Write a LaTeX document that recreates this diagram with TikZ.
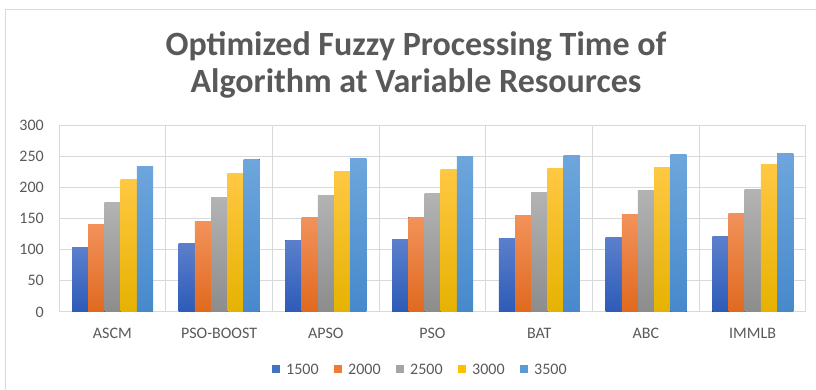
\documentclass[tikz,border=0pt]{standalone}
\usepackage{fontspec}
\setmainfont{Carlito}
\definecolor{txt}{HTML}{595959}
\definecolor{grid}{HTML}{D9D9D9}
\definecolor{sAt}{HTML}{5B7FCC}\definecolor{sAb}{HTML}{2D5BB8}
\definecolor{sBt}{HTML}{F2925A}\definecolor{sBb}{HTML}{E0691E}
\definecolor{sCt}{HTML}{B3B3B3}\definecolor{sCb}{HTML}{8C8C8C}
\definecolor{sDt}{HTML}{FFC843}\definecolor{sDb}{HTML}{E6B200}
\definecolor{sEt}{HTML}{6EA6DC}\definecolor{sEb}{HTML}{4689CC}
\definecolor{sA}{HTML}{4472C4}\definecolor{sB}{HTML}{ED7D31}
\definecolor{sC}{HTML}{A5A5A5}\definecolor{sD}{HTML}{FFC000}
\definecolor{sE}{HTML}{5B9BD5}

\begin{document}
\begin{tikzpicture}[x=1pt, y=1pt, every node/.style={font=\fontsize{16}{18}\selectfont, text=txt, inner sep=0pt},
	gl/.style={draw=grid, line width=1pt},
	bar/.style={top color=#1t, bottom color=#1b, draw=none}]
	\useasboundingbox (0,0) rectangle (816,390);
	\draw[grid, line width=1.8pt] (5.5,0) -- (5.5,380.5) -- (816,380.5);
	\node[font=\fontsize{34}{37}\selectfont\bfseries, align=center] (title) at (416,325) {Optimized Fuzzy Processing Time of\\ Algorithm at Variable Resources};
	% grid and value axis
	\foreach \v in {0,50,...,300} {
		\draw[gl] (59,{78+\v*0.6233}) -- (806,{78+\v*0.6233});
		\node[anchor=east] (y\v) at (44,{78+\v*0.6233}) {\v};
	}
	\foreach \k in {0,...,7} \draw[gl] ({59+106.71*\k},78) -- ({59+106.71*\k},265);
	% bars
	\foreach \k/\lab/\a/\b/\c/\d/\e in {0/ASCM/104/141/175/213/234, 1/PSO-BOOST/110/145/183/222/245, 2/APSO/115/151/187/226/247, 3/PSO/116/152/190/229/250, 4/BAT/118/155/191/230/251, 5/ABC/119/156/195/232/252, 6/IMMLB/121/158/197/236/255} {
		\foreach \v/\s [count=\j from 0] in {\a/sA,\b/sB,\c/sC,\d/sD,\e/sE}
			\fill[bar=\s] ({59+106.71*\k+13+16.2*\j},78) rectangle ({59+106.71*\k+13+16.2*(\j+1)},{78+\v*0.6233});
		\node (c\k) at ({59+106.71*\k+53.35},57) {\lab};
	}
	% legend
	\foreach \lab/\s [count=\j from 0] in {1500/sA,2000/sB,2500/sC,3000/sD,3500/sE} {
		\fill[\s] ({272+62*\j},17) rectangle ({280+62*\j},25);
		\node[anchor=west] (l\j) at ({286+62*\j},21) {\lab};
	}
\end{tikzpicture}
\end{document}
